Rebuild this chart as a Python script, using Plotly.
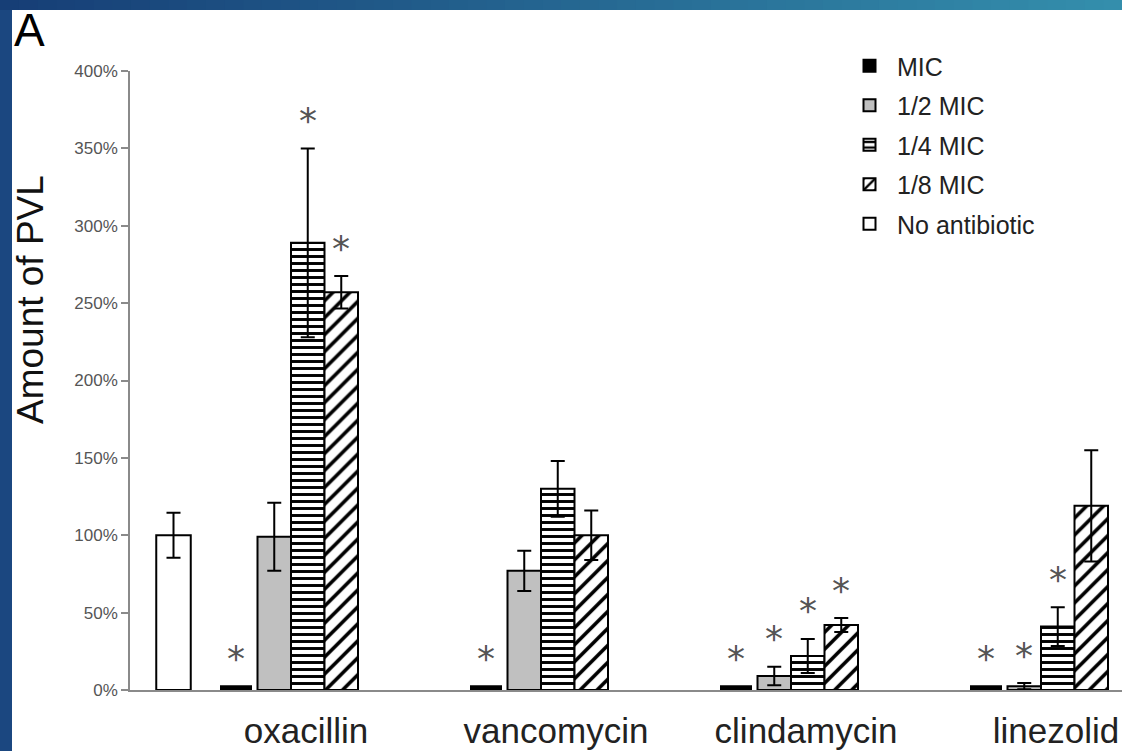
import plotly.graph_objects as go

# ---------------- data ----------------
categories = ["oxacillin", "vancomycin", "clindamycin", "linezolid"]
series_names = ["MIC", "1/2 MIC", "1/4 MIC", "1/8 MIC"]

mic_vals = [2.5, 2.5, 2.5, 2.5]
mic_err = [0, 0, 0, 0]
half_vals = [99, 77, 9, 2.5]
half_err = [22, 13, 6, 2]
quarter_vals = [289, 130, 22, 41]
quarter_err = [61, 18, 11, 12.5]
eighth_vals = [257, 100, 42, 119]
eighth_err = [10.5, 16, 4.5, 36]

control_name = "No antibiotic"
control_val = 100
control_err = 14.5

# significance markers (asterisks) per series, per category
mic_sig = [True, True, True, True]
half_sig = [False, False, True, True]
quarter_sig = [True, False, True, True]
eighth_sig = [True, False, True, False]

y_ticks = [0, 50, 100, 150, 200, 250, 300, 350, 400]
y_tick_labels = ["0%", "50%", "100%", "150%", "200%", "250%", "300%", "350%", "400%"]
y_title = "Amount of PVL"
panel_label = "A"

# ---------------- layout geometry ----------------
W, H = 1122, 751
ML, MR, MT, MB = 130, 0, 71, 61
PW, PH = W - ML - MR, H - MT - MB


def px_x(p):
    return (p - ML) / PW


def px_y(p):
    return (H - MB - p) / PH


FONT = "Liberation Sans, Arial, Helvetica, sans-serif"
BAR_W = 0.134
offsets = {"MIC": -0.28, "1/2 MIC": -0.127, "1/4 MIC": 0.007, "1/8 MIC": 0.141}
widths = {"MIC": 0.12, "1/2 MIC": BAR_W, "1/4 MIC": BAR_W, "1/8 MIC": BAR_W}
control_x = -0.53

styles = {
    "MIC": dict(color="black"),
    "1/2 MIC": dict(color="#c0c0c0"),
    "1/4 MIC": dict(color="white",
                    pattern=dict(shape="-", fgcolor="black", bgcolor="white",
                                 size=7, solidity=0.42, fillmode="replace")),
    "1/8 MIC": dict(color="white",
                    pattern=dict(shape="/", fgcolor="black", bgcolor="white",
                                 size=12, solidity=0.3, fillmode="replace")),
}

all_vals = [mic_vals, half_vals, quarter_vals, eighth_vals]
all_errs = [mic_err, half_err, quarter_err, eighth_err]
all_sig = [mic_sig, half_sig, quarter_sig, eighth_sig]

fig = go.Figure()
gx = list(range(len(categories)))

for name, vals, errs in zip(series_names, all_vals, all_errs):
    xs = [g + offsets[name] for g in gx]
    has_err = any(e > 0 for e in errs)
    fig.add_trace(go.Bar(
        name=name, x=xs, y=vals, width=[widths[name]] * len(xs),
        marker=dict(line=dict(color="black", width=2), **styles[name]),
        error_y=dict(type="data", array=errs, visible=has_err,
                     color="black", thickness=2, width=7),
        legendgroup=name,
    ))

fig.add_trace(go.Bar(
    name=control_name, x=[control_x], y=[control_val], width=[BAR_W + 0.004],
    marker=dict(color="white", line=dict(color="black", width=2)),
    error_y=dict(type="data", array=[control_err], color="black", thickness=2, width=7),
    legendgroup=control_name,
))

# asterisks
annotations = []
for name, vals, errs, sig in zip(series_names, all_vals, all_errs, all_sig):
    for g, v, e, s in zip(gx, vals, errs, sig):
        if s:
            annotations.append(dict(
                x=g + offsets[name], y=v + e, xref="x", yref="y",
                text="*", showarrow=False, yanchor="middle", yshift=28,
                font=dict(family="DejaVu Sans, sans-serif", size=36, color="#555555"),
            ))

annotations.append(dict(
    x=px_x(12), y=px_y(2), xref="paper", yref="paper", text=panel_label,
    showarrow=False, xanchor="left", yanchor="top",
    font=dict(family=FONT, size=46, color="black"),
))
annotations.append(dict(
    x=px_x(30), y=px_y(300), xref="paper", yref="paper", text=y_title,
    showarrow=False, xanchor="center", yanchor="middle", textangle=-90,
    font=dict(family=FONT, size=37, color="#111111"),
))

# frame: blue left band and gradient top band
shapes = []
shapes.append(dict(type="rect", xref="paper", yref="paper", layer="above",
                   x0=px_x(0), x1=px_x(12), y0=px_y(H), y1=px_y(0),
                   fillcolor="#1b4780", line=dict(width=0)))
N = 60
c0 = (22, 62, 118)
c1 = (52, 142, 172)
for i in range(N):
    t = i / (N - 1)
    col = "rgb(%d,%d,%d)" % tuple(round(a + (b - a) * t) for a, b in zip(c0, c1))
    shapes.append(dict(type="rect", xref="paper", yref="paper", layer="above",
                       x0=px_x(W * i / N), x1=px_x(W * (i + 1) / N + 1),
                       y0=px_y(10), y1=px_y(0),
                       fillcolor=col, line=dict(width=0)))

fig.update_layout(
    width=W, height=H,
    margin=dict(l=ML, r=MR, t=MT, b=MB, pad=0),
    paper_bgcolor="white", plot_bgcolor="white",
    barmode="overlay",
    font=dict(family=FONT, color="#222222"),
    showlegend=True,
    legend=dict(x=px_x(842), y=px_y(43), xanchor="left", yanchor="top",
                font=dict(family=FONT, size=25, color="#222222"),
                traceorder="grouped", tracegroupgap=4, itemwidth=45,
                bgcolor="rgba(0,0,0,0)"),
    annotations=annotations,
    shapes=shapes,
    xaxis=dict(
        range=[(ML - 306) / 250, (W - 306) / 250],
        tickmode="array", tickvals=gx, ticktext=categories,
        ticks="", showline=True, linecolor="#8a8a8a", linewidth=1.5,
        showgrid=False, zeroline=False,
        tickfont=dict(family=FONT, size=35, color="#222222"),
        ticklabelstandoff=9,
    ),
    yaxis=dict(
        range=[0, 400], tickmode="array", tickvals=y_ticks, ticktext=y_tick_labels,
        ticks="outside", ticklen=7, tickcolor="#8a8a8a",
        tickwidth=1.5, showline=True, linecolor="#8a8a8a", linewidth=1.5,
        showgrid=False, zeroline=False,
        tickfont=dict(family=FONT, size=17, color="#555555"),
    ),
)

fig.write_html("out.html", config={"displayModeBar": False},
               post_script="document.body.style.margin='0';document.body.style.overflow='hidden';")
